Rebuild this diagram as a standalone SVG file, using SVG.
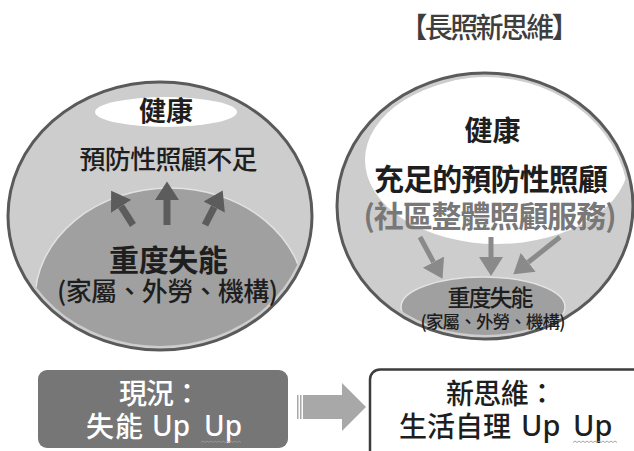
<svg xmlns="http://www.w3.org/2000/svg" width="634" height="451" viewBox="0 0 634 451">
<style>
text{font-family:"Noto Sans CJK TC","Noto Sans CJK SC",sans-serif;font-weight:500;text-anchor:middle;}
.b{font-weight:bold;}
.st{text-anchor:start;}
.lat{font-family:"Noto Sans","Open Sans",sans-serif;font-weight:500;}
.outer{fill:#cdcdcd;stroke:#5a5a5a;stroke-width:3;}
.core{fill:#a0a0a0;stroke:#e2e2e2;stroke-width:1.5;}
.blk{fill:#1e1e1e;}
.upL{stroke:#5c5c5c;stroke-width:7;fill:none;}
.dnR{stroke:#8a8a8a;stroke-width:5;fill:none;}
.squig{fill:none;stroke:#9a9a9a;stroke-width:0.9;}
</style>
<defs>
<clipPath id="clipL"><ellipse cx="160" cy="216" rx="148" ry="130"/></clipPath>
<clipPath id="clipR"><ellipse cx="485" cy="206" rx="144" ry="129"/></clipPath>
<marker id="headL" markerUnits="userSpaceOnUse" markerWidth="20" markerHeight="24" refX="0" refY="11" orient="auto" viewBox="0 0 18 22">
<path d="M0,0 L17,11 L0,22 Z" fill="#5c5c5c"/>
</marker>
<marker id="headR" markerUnits="userSpaceOnUse" markerWidth="20" markerHeight="26" refX="0" refY="12" orient="auto" viewBox="0 0 20 24">
<path d="M0,0 L19,12 L0,24 Z" fill="#8a8a8a"/>
</marker>
</defs>

<text x="489.5" y="38" font-size="28" fill="#3e3e3e" textLength="180">【長照新思維】</text>

<g id="left-circle">
<ellipse class="outer" cx="160" cy="216" rx="152" ry="134"/>
<ellipse cx="166" cy="112" rx="71" ry="15" fill="#ffffff"/>
<g clip-path="url(#clipL)">
<ellipse class="core" cx="170" cy="300" rx="135" ry="112"/>
</g>
<text x="166" y="121" font-size="27" class="blk b">健康</text>
<text x="168.5" y="169" font-size="26" class="blk" textLength="178">預防性照顧不足</text>
<text x="168.5" y="271" font-size="30" class="blk b" textLength="119">重度失能</text>
<text x="167.5" y="301" font-size="26" class="blk" textLength="221">(家屬、外勞、機構)</text>
</g>

<g id="right-circle">
<ellipse class="outer" cx="485" cy="206" rx="148" ry="133"/>
<g clip-path="url(#clipR)">
<ellipse cx="497" cy="160" rx="132" ry="84" fill="#ffffff"/>
<ellipse class="core" cx="483" cy="307" rx="82" ry="30" fill="#9c9c9c"/>
</g>
<text x="492.5" y="141" font-size="28" class="blk b">健康</text>
<text x="491" y="190" font-size="30" class="blk b" textLength="234">充足的預防性照顧</text>
<text x="490" y="227" font-size="30" fill="#787878" class="b" textLength="253">(社區整體照顧服務)</text>
<text x="490.5" y="306" font-size="23" class="blk" textLength="86">重度失能</text>
<text x="493" y="328" font-size="17.5" class="blk" textLength="145">(家屬、外勞、機構)</text>
</g>

<g id="connectors">
<line class="upL" x1="133" y1="225" x2="121.1" y2="206.3" marker-end="url(#headL)"/>
<line class="upL" x1="167" y1="225" x2="167" y2="200" marker-end="url(#headL)"/>
<line class="upL" x1="205" y1="225" x2="214.2" y2="207.1" marker-end="url(#headL)"/>
<line class="dnR" x1="420" y1="237" x2="433.5" y2="262.1" marker-end="url(#headR)"/>
<line class="dnR" x1="491" y1="237" x2="491" y2="257" marker-end="url(#headR)"/>
<line class="dnR" x1="560" y1="237" x2="528.2" y2="262.3" marker-end="url(#headR)"/>
<g id="block-arrow" fill="#a8a8a8">
<rect x="297" y="395" width="1.5" height="24"/>
<rect x="300" y="395" width="1.5" height="24"/>
<path d="M303,395 L342,395 L342,383 L366,407 L342,431 L342,419 L303,419 Z"/>
</g>
</g>

<g id="box-now">
<rect x="38" y="370" width="250" height="78" rx="9" fill="#767676"/>
<text x="119" y="404" font-size="28" fill="#ffffff" class="st" textLength="82">現況：</text>
<text x="86" y="437" font-size="28" fill="#ffffff" class="st" textLength="57">失能</text>
<text x="152" y="436" font-size="28" fill="#ffffff" class="st lat">Up</text>
<text x="204" y="436" font-size="28" fill="#ffffff" class="st lat">Up</text>
<path class="squig" d="M201,442.5 l2,-1.5 l2,1.5 l2,-1.5 l2,1.5 l2,-1.5 l2,1.5 l2,-1.5 l2,1.5 l2,-1.5 l2,1.5 l2,-1.5 l2,1.5 l2,-1.5 l2,1.5 l2,-1.5 l2,1.5 l2,-1.5 l2,1.5 l2,-1.5 l2,1.5"/>
</g>

<g id="box-new">
<rect x="370" y="369.5" width="285" height="100" rx="10" fill="#ffffff" stroke="#3c3c3c" stroke-width="2.5"/>
<text x="446" y="404" font-size="28" class="blk st" textLength="110">新思維：</text>
<text x="399" y="437" font-size="28" class="blk st" textLength="112">生活自理</text>
<text x="521" y="436" font-size="29" class="blk st lat">Up</text>
<text x="573" y="436" font-size="29" class="blk st lat">Up</text>
<path class="squig" d="M573,442.5 l2,-1.5 l2,1.5 l2,-1.5 l2,1.5 l2,-1.5 l2,1.5 l2,-1.5 l2,1.5 l2,-1.5 l2,1.5 l2,-1.5 l2,1.5 l2,-1.5 l2,1.5 l2,-1.5 l2,1.5 l2,-1.5 l2,1.5 l2,-1.5 l2,1.5 l2,-1.5 l2,1.5"/>
</g>
</svg>
